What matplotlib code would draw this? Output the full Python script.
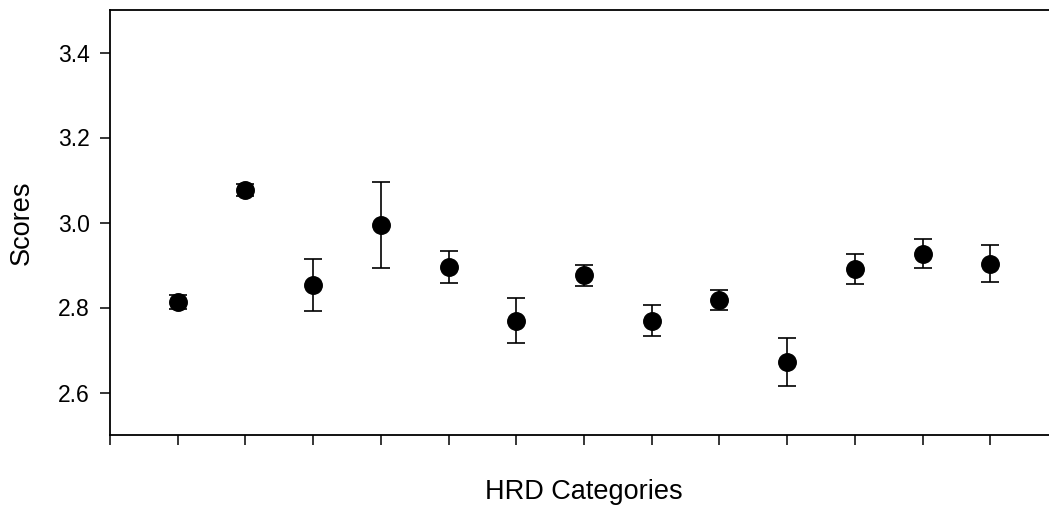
import matplotlib
matplotlib.use('Agg')
import matplotlib.pyplot as plt

# HRD category scores (mean +/- error)
categories = list(range(1, 14))
scores = [2.813, 3.076, 2.853, 2.994, 2.895, 2.769, 2.876,
          2.769, 2.817, 2.672, 2.891, 2.927, 2.903]
errors = [0.017, 0.014, 0.061, 0.101, 0.038, 0.053, 0.025,
          0.037, 0.023, 0.056, 0.036, 0.034, 0.044]
y_ticks = [2.6, 2.8, 3.0, 3.2, 3.4]

plt.rcParams['font.family'] = ['Liberation Sans', 'DejaVu Sans']

fig = plt.figure(figsize=(10.49, 5.09), dpi=100)
# right spine sits just outside the image, as in the reference
ax = fig.add_axes([110 / 1049, 1 - 435 / 509, 948 / 1049, 425 / 509])

ax.errorbar(categories, scores, yerr=errors, fmt='o', color='black',
            markersize=12.6, elinewidth=1.2, capsize=6.5, capthick=1.2)

ax.set_xlim(0, 14)
ax.set_ylim(2.5, 3.5)
ax.set_xticks(range(0, 14))
ax.set_xticklabels([])
ax.set_yticks(y_ticks)
ax.set_yticklabels([f'{t:.1f}' for t in y_ticks])

ax.tick_params(direction='out', length=7, width=1.1, labelsize=16.5, pad=7.5)
for side in ['left', 'bottom', 'top', 'right']:
    ax.spines[side].set_linewidth(1.3)

ax.set_xlabel('HRD Categories', fontsize=19.5, labelpad=17)
ax.set_ylabel('Scores', fontsize=19.5, labelpad=16.5)

plt.savefig('out.png', dpi=100)
